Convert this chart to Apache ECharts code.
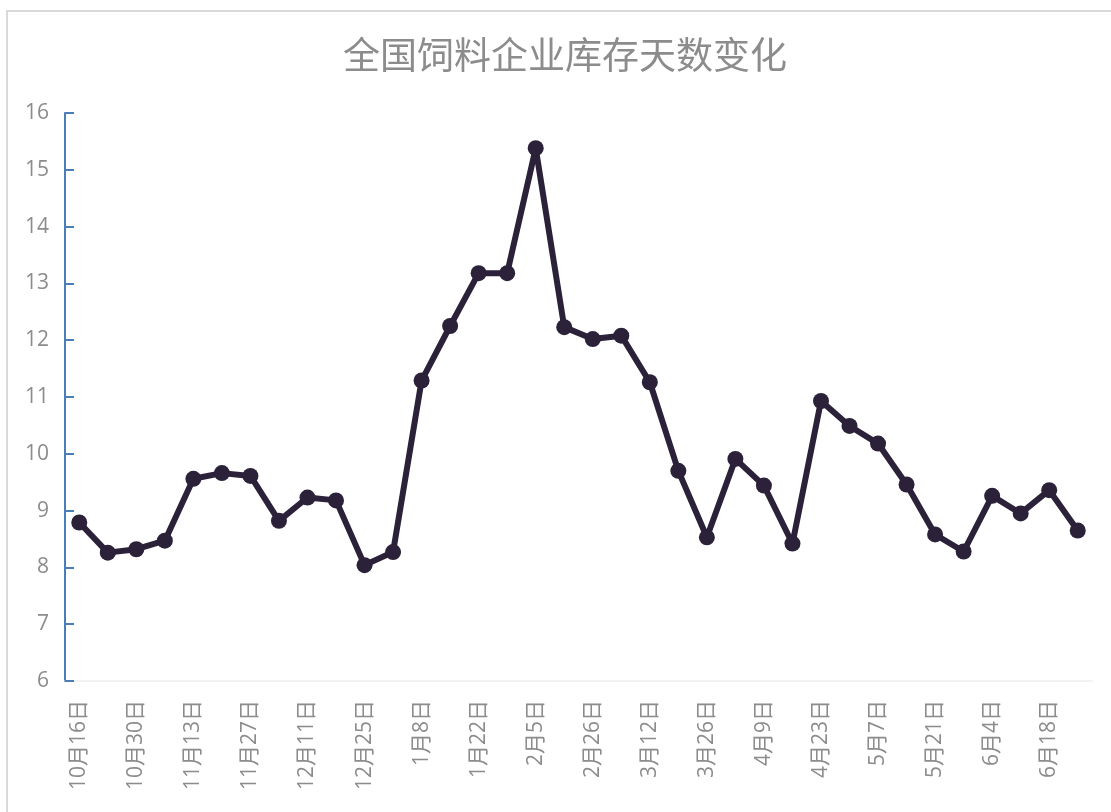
<!DOCTYPE html>
<html>
<head>
<meta charset="utf-8">
<script src="https://cdn.jsdelivr.net/npm/echarts@6/dist/echarts.min.js"></script>
<style>
html,body{margin:0;padding:0;background:#fff;overflow:hidden;}
#frame{position:absolute;left:6px;top:10px;width:1200px;height:900px;border-left:2px solid #d9d9d9;border-top:2px solid #d9d9d9;}
#chart{position:absolute;left:0;top:0;width:1111px;height:812px;}
</style>
</head>
<body>
<div id="frame"></div>
<div id="chart"></div>
<script>
const titleText = '全国饲料企业库存天数变化';
const categories = ['10月16日','10月23日','10月30日','11月6日','11月13日','11月20日','11月27日','12月4日','12月11日','12月18日','12月25日','1月1日','1月8日','1月15日','1月22日','1月29日','2月5日','2月19日','2月26日','3月5日','3月12日','3月19日','3月26日','4月2日','4月9日','4月16日','4月23日','4月30日','5月7日','5月14日','5月21日','5月28日','6月4日','6月11日','6月18日','6月25日'];
const inventoryDays = [8.79,8.26,8.32,8.47,9.56,9.66,9.61,8.82,9.23,9.18,8.04,8.27,11.29,12.25,13.18,13.18,15.38,12.23,12.02,12.08,11.26,9.70,8.53,9.91,9.44,8.42,10.93,10.49,10.18,9.46,8.58,8.28,9.26,8.95,9.36,8.65];
const yTicks = {min:6, max:16, interval:1};

const chart = echarts.init(document.getElementById('chart'));
chart.setOption({
  backgroundColor:'transparent',
  animation:false,
  title:{
    text:titleText,
    left:560,
    textAlign:'center',
    top:31,
    textStyle:{fontFamily:'Noto Sans CJK SC',fontSize:37,fontWeight:'normal',color:'#8c8c8c'}
  },
  grid:{left:65,right:19,top:113,bottom:131,containLabel:false},
  xAxis:{
    type:'category',
    data:categories,
    boundaryGap:true,
    axisLine:{show:true,lineStyle:{color:'#eeeeee',width:1.5}},
    axisTick:{show:false},
    axisLabel:{interval:1,rotate:90,margin:19,fontFamily:'Open Sans, Noto Sans CJK SC',fontSize:21,color:'#8c8c8c'}
  },
  yAxis:{
    type:'value',
    min:yTicks.min,max:yTicks.max,interval:yTicks.interval,
    axisLine:{show:true,lineStyle:{color:'#4a7ebb',width:2}},
    axisTick:{show:true,inside:true,length:9,lineStyle:{color:'#4a7ebb',width:2}},
    splitLine:{show:false},
    axisLabel:{margin:16,fontFamily:'Open Sans',fontSize:21,color:'#8c8c8c'}
  },
  series:[{
    type:'line',
    data:inventoryDays,
    symbol:'circle',
    symbolSize:16,
    lineStyle:{color:'#2b2139',width:6},
    itemStyle:{color:'#2b2139'}
  }]
});
</script>
</body>
</html>
